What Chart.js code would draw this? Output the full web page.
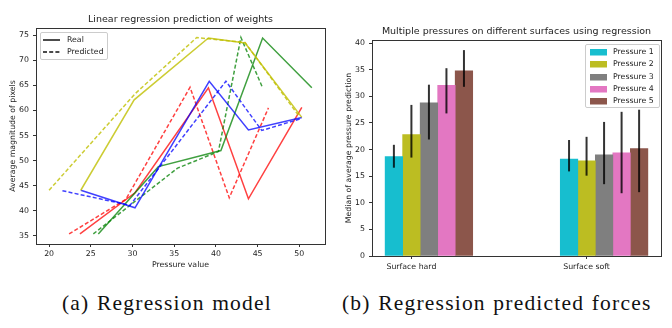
<!DOCTYPE html>
<html>
<head>
<meta charset="utf-8">
<script src="https://cdn.jsdelivr.net/npm/chart.js@4.4.1/dist/chart.umd.min.js"></script>
<style>
  body { margin: 0; background: #fff; }
  #page { position: relative; width: 672px; height: 328px; overflow: hidden; }
  .box { position: absolute; top: 0; width: 336px; height: 280px; }
  .legend { position: absolute; border: 1px solid #ccc; border-radius: 2px; background: rgba(255,255,255,0.8);
    font-family: "DejaVu Sans"; font-size: 7.8px; color: #222; }
  .legend .row { position: absolute; left: 0; height: 10px; line-height: 10px; white-space: nowrap; }
  .legend svg { position: absolute; top: 0; }
  .legend span { position: absolute; top: 0; }
  .caption { position: absolute; top: 291px; font-family: "Liberation Serif"; font-size: 21.5px;
    letter-spacing: 1.2px; word-spacing: 1px; color: #111; white-space: nowrap; }
</style>
</head>
<body>
<div id="page">
  <div class="box" style="left:0"><canvas id="regChart" width="336" height="280"></canvas></div>
  <div class="box" style="left:336px"><canvas id="barChart" width="336" height="280"></canvas></div>

  <div class="legend" style="left:40px;top:32px;width:66px;height:26px">
    <div class="row" style="top:2px">
      <svg width="20" height="10" style="left:2px"><line x1="0" y1="5" x2="17" y2="5" stroke="#111" stroke-width="1.5"/></svg>
      <span style="left:26px">Real</span>
    </div>
    <div class="row" style="top:14px">
      <svg width="20" height="10" style="left:2px"><line x1="0" y1="5" x2="17" y2="5" stroke="#111" stroke-width="1.5" stroke-dasharray="4 2.2"/></svg>
      <span style="left:26px">Predicted</span>
    </div>
  </div>
  <div class="legend" id="barLegend" style="left:585px;top:44px;width:73px;height:62px"></div>

  <div class="caption" style="left:62px">(a) Regression model</div>
  <div class="caption" style="left:342px">(b) Regression predicted forces</div>
</div>
<script>
// left plot: pressure value (x) vs average magnitude of pixels (y)
const yellowRealX = [23.8, 30.2, 39.1, 43.5, 50.3];
const yellowRealY = [44.1, 62.1, 74.4, 73.4, 58.6];
const yellowPredX = [20.0, 30.3, 37.7, 43.5, 49.9];
const yellowPredY = [44.1, 63.3, 74.5, 73.5, 59.0];
const blueRealX = [23.8, 30.3, 39.2, 43.9, 50.3];
const blueRealY = [44.1, 40.6, 65.8, 56.1, 58.6];
const bluePredX = [21.6, 29.7, 41.2, 45.5, 50.3];
const bluePredY = [44.0, 41.1, 65.8, 56.0, 58.4];
const redRealX = [23.7, 30.3, 39.1, 43.9, 50.3];
const redRealY = [35.4, 43.6, 64.5, 42.4, 60.6];
const redPredX = [22.4, 29.2, 36.9, 41.6, 46.3];
const redPredY = [35.4, 42.3, 64.6, 42.6, 60.5];
const greenRealX = [25.9, 33.1, 40.6, 45.6, 51.5];
const greenRealY = [35.4, 48.8, 52.0, 74.4, 64.5];
const greenPredX = [25.3, 35.4, 40.3, 43.0, 45.6];
const greenPredY = [35.4, 48.5, 51.8, 74.5, 64.5];
const regXTicks = [20, 25, 30, 35, 40, 45, 50];
const regYTicks = [35, 40, 45, 50, 55, 60, 65, 70, 75];

// right plot: median of average pressure prediction per surface
const surfaces = ["Surface hard", "Surface soft"];
const pressureNames = ["Pressure 1", "Pressure 2", "Pressure 3", "Pressure 4", "Pressure 5"];
const hardMedian = [18.7, 22.8, 28.8, 32.1, 34.8];
const softMedian = [18.2, 17.9, 19.0, 19.4, 20.2];
const hardLow = [16.6, 18.5, 21.9, 26.8, 31.8];
const hardHigh = [20.9, 28.4, 32.2, 35.3, 38.7];
const softLow = [15.9, 15.1, 13.5, 11.8, 12.0];
const softHigh = [21.8, 22.4, 25.2, 27.1, 27.5];
const barYTicks = [0, 5, 10, 15, 20, 25, 30, 35, 40];

const pressureColors = ["#17becf", "#bcbd22", "#7f7f7f", "#e377c2", "#8c564b"];

Chart.defaults.font.family = "DejaVu Sans";
Chart.defaults.font.size = 7.8;
Chart.defaults.color = "#222";
Chart.defaults.animation = false;

function zip(xs, ys) {
  return xs.map((x, i) => ({ x: x, y: ys[i] }));
}

function lineSet(xs, ys, color, dashed) {
  return {
    data: zip(xs, ys),
    showLine: true,
    borderColor: color,
    borderWidth: 1.5,
    borderDash: dashed ? [4, 2.2] : [],
    pointRadius: 0,
    fill: false,
  };
}

// matplotlib style box around the plot area
const frame = {
  id: "frame",
  afterDraw(chart) {
    const a = chart.chartArea;
    const ctx = chart.ctx;
    ctx.save();
    ctx.strokeStyle = "#333";
    ctx.lineWidth = 1;
    ctx.strokeRect(Math.round(a.left) + 0.5, Math.round(a.top) + 0.5,
      Math.round(a.right - a.left), Math.round(a.bottom - a.top));
    ctx.restore();
  },
};

const errorBars = {
  id: "errorBars",
  afterDatasetsDraw(chart) {
    const ctx = chart.ctx;
    const yScale = chart.scales.y;
    ctx.save();
    ctx.strokeStyle = "rgba(0,0,0,0.8)";
    ctx.lineWidth = 2;
    chart.data.datasets.forEach((ds, d) => {
      chart.getDatasetMeta(d).data.forEach((bar, j) => {
        ctx.beginPath();
        ctx.moveTo(bar.x, yScale.getPixelForValue(ds.errLow[j]));
        ctx.lineTo(bar.x, yScale.getPixelForValue(ds.errHigh[j]));
        ctx.stroke();
      });
    });
    ctx.restore();
  },
};

function tickGrid() {
  return { display: true, drawOnChartArea: false, drawTicks: true, tickLength: 3, color: "#333" };
}

new Chart(document.getElementById("regChart"), {
  type: "scatter",
  data: {
    datasets: [
      lineSet(yellowRealX, yellowRealY, "rgba(191,191,0,0.8)", false),
      lineSet(yellowPredX, yellowPredY, "rgba(191,191,0,0.8)", true),
      lineSet(blueRealX, blueRealY, "rgba(0,0,255,0.75)", false),
      lineSet(bluePredX, bluePredY, "rgba(0,0,255,0.75)", true),
      lineSet(greenRealX, greenRealY, "rgba(0,128,0,0.75)", false),
      lineSet(greenPredX, greenPredY, "rgba(0,128,0,0.75)", true),
      lineSet(redRealX, redRealY, "rgba(255,0,0,0.75)", false),
      lineSet(redPredX, redPredY, "rgba(255,0,0,0.75)", true),
    ],
  },
  options: {
    responsive: false,
    layout: { padding: { left: 0, right: 11, top: 0, bottom: 0 } },
    scales: {
      x: {
        type: "linear",
        min: 18.43,
        max: 53.08,
        afterBuildTicks: (axis) => { axis.ticks = regXTicks.map((v) => ({ value: v })); },
        afterFit: (scale) => { scale.height = 36; },
        grid: tickGrid(),
        border: { display: false },
        ticks: { padding: 2, maxRotation: 0 },
        title: { display: true, text: "Pressure value", padding: { top: 0, bottom: 10 } },
      },
      y: {
        min: 33.4,
        max: 76.4,
        afterBuildTicks: (axis) => { axis.ticks = regYTicks.map((v) => ({ value: v })); },
        afterFit: (scale) => { scale.width = 36; },
        grid: tickGrid(),
        border: { display: false },
        ticks: { padding: 4 },
        title: { display: true, text: "Average magnitude of pixels", padding: { top: 8, bottom: 0 } },
      },
    },
    plugins: {
      legend: { display: false },
      tooltip: { enabled: false },
      title: {
        display: true,
        fullSize: false,
        text: "Linear regression prediction of weights",
        font: { size: 9.5, weight: "normal" },
        padding: { top: 14, bottom: 2.6 },
      },
    },
  },
  plugins: [frame],
});

const barSets = pressureNames.map((name, i) => ({
  label: name,
  data: surfaces.map((s, g) => ({ x: g + i * 0.1, y: g === 0 ? hardMedian[i] : softMedian[i] })),
  errLow: [hardLow[i], softLow[i]],
  errHigh: [hardHigh[i], softHigh[i]],
  backgroundColor: pressureColors[i],
  borderWidth: 0,
  grouped: false,
  categoryPercentage: 1,
  barPercentage: 1,
}));

new Chart(document.getElementById("barChart"), {
  type: "bar",
  data: { datasets: barSets },
  options: {
    responsive: false,
    layout: { padding: { left: 0, right: 11, top: 0, bottom: 0 } },
    scales: {
      x: {
        type: "linear",
        offset: false,
        min: -0.125,
        max: 1.525,
        afterBuildTicks: (axis) => { axis.ticks = surfaces.map((s, g) => ({ value: g + 0.1 })); },
        afterFit: (scale) => { scale.height = 24; },
        grid: Object.assign(tickGrid(), { offset: false }),
        border: { display: false },
        ticks: {
          padding: 3,
          maxRotation: 0,
          callback: (v) => surfaces[Math.round(v - 0.1)],
        },
      },
      y: {
        min: 0,
        max: 40.6,
        afterBuildTicks: (axis) => { axis.ticks = barYTicks.map((v) => ({ value: v })); },
        afterFit: (scale) => { scale.width = 36; },
        grid: tickGrid(),
        border: { display: false },
        ticks: { padding: 4 },
        title: { display: true, text: "Median of average pressure prediction", padding: { top: 8, bottom: 0 } },
      },
    },
    plugins: {
      legend: { display: false },
      tooltip: { enabled: false },
      title: {
        display: true,
        fullSize: false,
        text: "Multiple pressures on different surfaces using regression",
        font: { size: 9.5, weight: "normal" },
        padding: { top: 26, bottom: 2.6 },
      },
    },
  },
  plugins: [errorBars, frame],
});

// legend for the bar chart, inside the plot like matplotlib
const barLegend = document.getElementById("barLegend");
pressureNames.forEach((name, i) => {
  const row = document.createElement("div");
  row.className = "row";
  row.style.top = (2 + i * 12.3) + "px";
  row.innerHTML =
    '<svg width="18" height="10" style="left:4px"><rect x="0" y="2" width="17" height="6.5" fill="' +
    pressureColors[i] + '"/></svg><span style="left:27px">' + name + "</span>";
  barLegend.appendChild(row);
});
</script>
</body>
</html>
